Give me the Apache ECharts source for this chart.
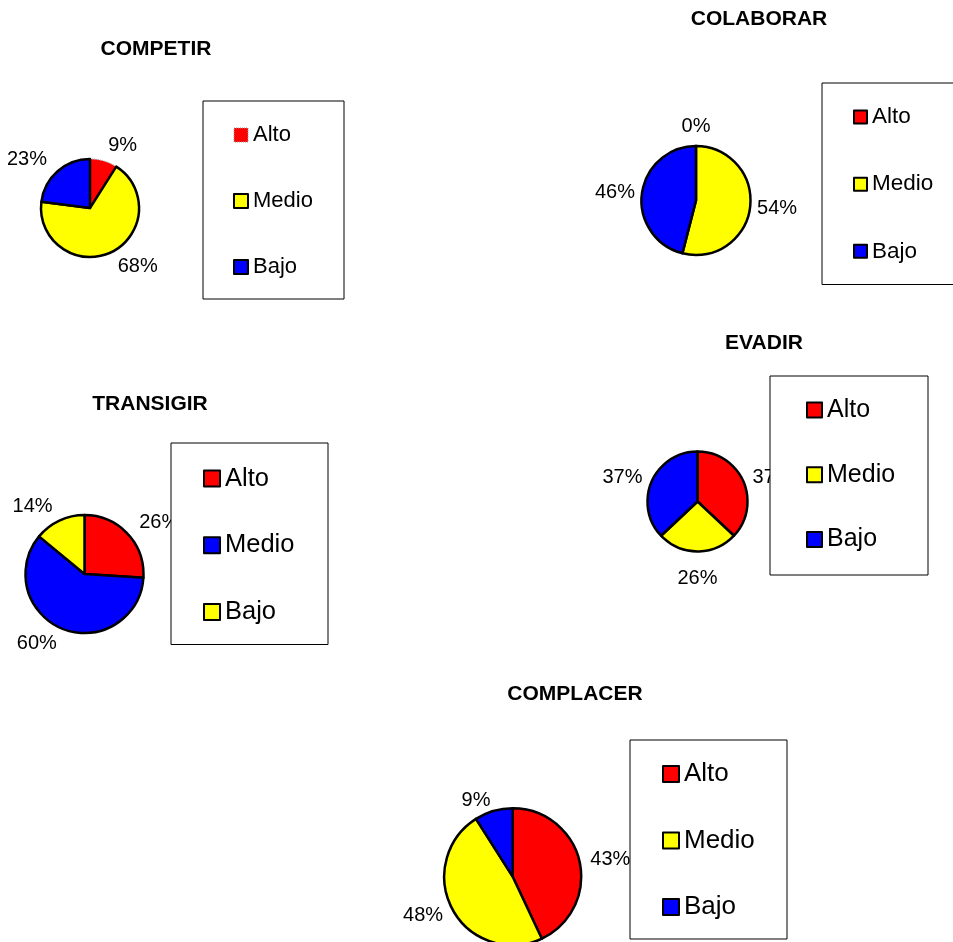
<!DOCTYPE html>
<html>
<head>
<meta charset="utf-8">
<title>Estilos de manejo de conflicto</title>
<style>
  html, body { margin: 0; padding: 0; background: #fff; }
  #chart { width: 953px; height: 942px; }
</style>
<script src="https://cdn.jsdelivr.net/npm/echarts@6/dist/echarts.min.js"></script>
</head>
<body>
<div id="chart"></div>
<script>
// categorías y porcentajes de cada estilo
const niveles = ["Alto", "Medio", "Bajo"];
const competir = [9, 68, 23];
const colaborar = [0, 54, 46];
const transigir = [26, 60, 14];
const evadir = [37, 26, 37];
const complacer = [43, 48, 9];

const ROJO = "#ff0000", AMARILLO = "#ffff00", AZUL = "#0000ff";
const FONT = "Arial, 'Liberation Sans', sans-serif";

// ubicación de cada gráfico en la hoja
const paneles = [
  { titulo: "COMPETIR", valores: competir, colores: [ROJO, AMARILLO, AZUL],
    tituloXY: [156, 49], centro: [90, 208], radio: 49, largo: 16, extraV: 12,
    caja: [203, 101, 343, 299], primerItem: 135, paso: 66, simboloX: 233, simbolo: 14, fuente: 22,
    punteado: 0 },
  { titulo: "COLABORAR", valores: colaborar, colores: [ROJO, AMARILLO, AZUL],
    tituloXY: [759, 19], centro: [696, 200.5], radio: 54.5, largo: 7, extraV: 13,
    caja: [822, 83, 1000, 283], primerItem: 116.7, paso: 66.7, simboloX: 853, simbolo: 13, fuente: 22.5 },
  { titulo: "TRANSIGIR", valores: transigir, colores: [ROJO, AZUL, AMARILLO],
    tituloXY: [150, 404], centro: [84.5, 574], radio: 59, largo: 16, extraV: 12,
    caja: [171, 443, 327, 643], primerItem: 478.3, paso: 66.2, simboloX: 203, simbolo: 16, fuente: 25.5 },
  { titulo: "EVADIR", valores: evadir, colores: [ROJO, AMARILLO, AZUL],
    tituloXY: [764, 343], centro: [697.5, 501.5], radio: 50, largo: 10, extraV: 17,
    caja: [770, 376, 927, 575], primerItem: 410, paso: 64.7, simboloX: 806, simbolo: 15, fuente: 25 },
  { titulo: "COMPLACER", valores: complacer, colores: [ROJO, AMARILLO, AZUL],
    tituloXY: [575, 694], centro: [512.7, 876.7], radio: 68.5, largo: 11, extraV: 12,
    caja: [630, 740, 786, 939], primerItem: 774, paso: 66.5, simboloX: 662, simbolo: 16, fuente: 26 }
];

// medir textos con la misma fuente del canvas
const ctx = document.createElement("canvas").getContext("2d");
function ancho(texto, size, bold) {
  ctx.font = (bold ? "bold " : "") + size + "px " + FONT;
  return ctx.measureText(texto).width;
}

const title = [], legend = [], series = [];

paneles.forEach((p) => {
  title.push({
    text: p.titulo,
    left: p.tituloXY[0] - ancho(p.titulo, 21, true) / 2,
    top: p.tituloXY[1] - 12,
    padding: 0,
    textStyle: { fontSize: 21, lineHeight: 24, fontWeight: "bold", color: "#000", fontFamily: FONT }
  });

  const total = p.valores.reduce((a, b) => a + b, 0);
  let acum = 0;
  const data = p.valores.map((v, i) => {
    const f = (acum + v / 2) / total;
    acum += v;
    const item = { name: niveles[i], value: v, itemStyle: { color: p.colores[i] } };
    // etiquetas arriba o abajo: centradas sobre el sector
    if (Math.abs(Math.sin(2 * Math.PI * f)) < 0.15) {
      item.labelLine = { length: p.largo + p.extraV, length2: -ancho(v + "%", 20) / 2 };
    }
    if (i === p.punteado) {
      item.itemStyle = { color: p.colores[i], borderType: "dotted", borderColor: "#999", borderWidth: 1 };
    }
    return item;
  });

  series.push({
    type: "pie",
    name: p.titulo,
    center: p.centro,
    radius: p.radio,
    startAngle: 90,
    clockwise: true,
    avoidLabelOverlap: false,
    data: data,
    itemStyle: { borderColor: "#000", borderWidth: 2.5 },
    label: {
      position: "outside",
      formatter: "{c}%",
      fontSize: 20,
      lineHeight: 20,
      color: "#000",
      fontFamily: FONT,
      distanceToLabelLine: 0
    },
    labelLine: { show: false, length: p.largo, length2: 0 },
    emphasis: { scale: false }
  });

  // alto de cada fila de la leyenda = el mayor entre símbolo y texto
  const h = p.simbolo;
  const fila = Math.max(h, p.fuente);
  const [x0, y0, x1, y1] = p.caja;
  const wmax = Math.max(...niveles.map((n) => ancho(n, p.fuente)));
  legend.push({
    orient: "vertical",
    left: x0,
    top: y0,
    height: 400,
    selectedMode: false,
    icon: "rect",
    itemWidth: h,
    itemHeight: h,
    itemGap: p.paso - fila,
    padding: [
      p.primerItem - fila / 2 - y0,
      x1 - (p.simboloX + h + 5 + wmax),
      y1 - (p.primerItem + 2 * p.paso + fila / 2),
      p.simboloX - x0
    ],
    backgroundColor: "#fff",
    borderColor: "#000",
    borderWidth: 1,
    textStyle: { fontSize: p.fuente, color: "#000", fontFamily: FONT },
    itemStyle: { borderColor: "#000", borderWidth: 2 },
    data: niveles.map((n, i) => ({
      name: n,
      itemStyle: i === p.punteado
        ? { color: p.colores[i], borderType: "dotted", borderColor: "#999", borderWidth: 1 }
        : { color: p.colores[i], borderColor: "#000", borderWidth: 2 }
    }))
  });
});

const chart = echarts.init(document.getElementById("chart"));
chart.setOption({
  backgroundColor: "#fff",
  animation: false,
  title: title,
  legend: legend,
  series: series
});
window.addEventListener("resize", () => chart.resize());
</script>
</body>
</html>
